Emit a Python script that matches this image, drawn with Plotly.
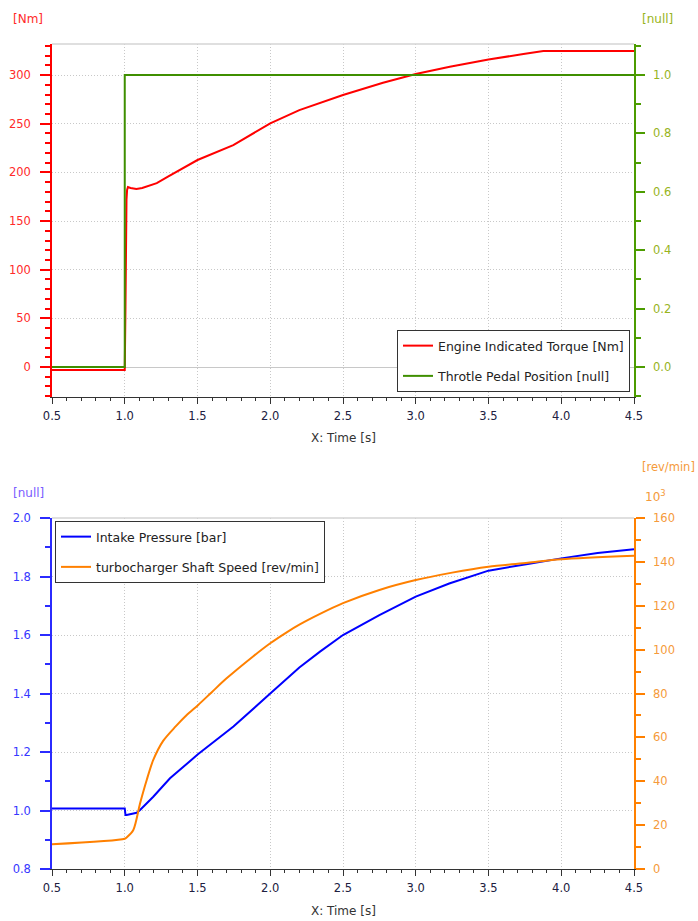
import plotly.graph_objects as go

# ---------------- data ----------------
torque_t = [0.5, 1.0, 1.005, 1.007, 1.012, 1.016, 1.022, 1.04, 1.08, 1.12, 1.174, 1.22, 1.3,
            1.5, 1.746, 2.0, 2.2, 2.5, 2.775, 3.0, 3.234, 3.5, 3.74, 3.877, 4.5]
torque_v = [-3, -3, 62, 170, 172, 182, 185, 184, 183, 184, 187, 189, 196,
            212.7, 228, 250.4, 264, 279.5, 292, 301, 308.5, 316, 321.6, 324.7, 324.7]

pedal_t = [0.5, 1.0, 1.0, 4.5]
pedal_v = [0.0, 0.0, 1.0, 1.0]

press_t = [0.5, 1.0, 1.005, 1.013, 1.082, 1.105, 1.196, 1.311, 1.505, 1.747, 2.0, 2.2,
           2.342, 2.5, 2.75, 3.0, 3.23, 3.5, 3.77, 4.0, 4.25, 4.5]
press_v = [1.007, 1.007, 0.985, 0.985, 0.992, 1.002, 1.047, 1.110, 1.193, 1.287, 1.400, 1.489,
           1.543, 1.600, 1.668, 1.731, 1.776, 1.820, 1.843, 1.862, 1.880, 1.893]

turbo_t = [0.5, 1.0, 1.013, 1.059, 1.105, 1.151, 1.196, 1.265, 1.35, 1.426, 1.505, 1.598,
           1.70, 1.884, 2.0, 2.113, 2.203, 2.342, 2.5, 2.75, 3.0, 3.25, 3.5, 3.77, 4.0, 4.5]
turbo_v = [11.3, 13.8, 14.4, 17.8, 29.9, 40.6, 49.7, 58.5, 65.0, 70.2, 74.8, 80.6,
           86.9, 97.0, 102.9, 107.9, 111.5, 116.3, 121.2, 127.2, 131.7, 135.1, 137.8, 139.6, 141.2, 142.8]

x_ticks = [0.5, 1.0, 1.5, 2.0, 2.5, 3.0, 3.5, 4.0, 4.5]

# ---------------- styling ----------------
FONT = "DejaVu Sans"
RED = "#ff0000"
RED_LBL = "#ff2a2a"
GREEN = "#3f8f00"
GREEN_AX = "#4c9c00"
GREEN_LBL = "#98b41c"
BLUE = "#0000ff"
BLUE_AX = "#2b2bff"
BLUE_LBL = "#3636ff"
ORANGE = "#ff8000"
ORANGE_LBL = "#f59a3a"
XLBL = "#202040"
GRID = "#c8c8c8"
GDASH = "1px,2px"

# plot-area geometry in pixels
W, H = 698, 921
L, R, T, B = 52, 64, 44, 52
PW, PH = W - L - R, H - T - B

def px(x):
    return (x - L) / PW

def py(y):
    return (H - B - y) / PH

fig = go.Figure()

fig.add_trace(go.Scatter(x=torque_t, y=torque_v, mode="lines", name="Engine Indicated Torque [Nm]",
                         line=dict(color=RED, width=2), xaxis="x", yaxis="y",
                         legend="legend", legendgroup="a"))
fig.add_trace(go.Scatter(x=pedal_t, y=pedal_v, mode="lines", name="Throtle Pedal Position [null]",
                         line=dict(color=GREEN, width=2), xaxis="x", yaxis="y2",
                         legend="legend", legendgroup="b"))
fig.add_trace(go.Scatter(x=press_t, y=press_v, mode="lines", name="Intake Pressure [bar]",
                         line=dict(color=BLUE, width=2), xaxis="x2", yaxis="y3",
                         legend="legend2", legendgroup="c"))
fig.add_trace(go.Scatter(x=turbo_t, y=turbo_v, mode="lines", name="turbocharger Shaft Speed [rev/min]",
                         line=dict(color=ORANGE, width=2, shape="spline", smoothing=0.8),
                         xaxis="x2", yaxis="y4", legend="legend2", legendgroup="d"))

top_dom = [py(397), 1.0]
bot_dom = [0.0, py(518)]

def xaxis_cfg(anchor):
    return dict(
        domain=[0, 1], anchor=anchor, range=[0.5, 4.5], tickvals=x_ticks,
        ticktext=[f"{v:.1f}" for v in x_ticks], automargin=False,
        showline=True, linecolor="#333333", linewidth=1,
        ticks="outside", ticklen=6, tickcolor="#333333", tickwidth=1,
        minor=dict(dtick=0.1, tick0=0.5, ticks="outside", ticklen=3, tickcolor="#333333"),
        showgrid=True, gridcolor=GRID, griddash=GDASH, gridwidth=1,
        zeroline=False, tickfont=dict(family=FONT, size=11.5, color=XLBL),
        ticklabelstandoff=2,
    )

fig.update_layout(
    width=W, height=H,
    margin=dict(l=L, r=R, t=T, b=B, autoexpand=False),
    paper_bgcolor="white", plot_bgcolor="white",
    font=dict(family=FONT, size=12),
    xaxis=xaxis_cfg("y"),
    xaxis2=xaxis_cfg("y3"),
    yaxis=dict(
        domain=top_dom, anchor="x", range=[-30.8, 331.9], automargin=False,
        tickvals=[0, 50, 100, 150, 200, 250, 300],
        showline=True, linecolor=RED, linewidth=1.5,
        ticks="outside", ticklen=10, tickcolor=RED, tickwidth=1.5,
        minor=dict(dtick=10, ticks="outside", ticklen=5, tickcolor=RED),
        showgrid=True, gridcolor=GRID, griddash=GDASH,
        zeroline=True, zerolinecolor="#c8c8c8", zerolinewidth=1,
        tickfont=dict(family=FONT, size=11.5, color=RED_LBL),
        ticklabelstandoff=7,
    ),
    yaxis2=dict(
        domain=top_dom, anchor="x", overlaying="y", side="right", range=[-0.1027, 1.1062],
        automargin=False,
        tickvals=[0, 0.2, 0.4, 0.6, 0.8, 1.0],
        ticktext=["0.0", "0.2", "0.4", "0.6", "0.8", "1.0"],
        showline=True, linecolor=GREEN_AX, linewidth=1.5,
        ticks="outside", ticklen=9, tickcolor=GREEN_AX, tickwidth=1.5,
        minor=dict(dtick=0.1, ticks="outside", ticklen=5, tickcolor=GREEN_AX),
        showgrid=False, zeroline=False,
        tickfont=dict(family=FONT, size=11.5, color=GREEN_LBL),
        ticklabelstandoff=6,
    ),
    yaxis3=dict(
        domain=bot_dom, anchor="x2", range=[0.8, 2.0], automargin=False,
        tickvals=[0.8, 1.0, 1.2, 1.4, 1.6, 1.8, 2.0],
        ticktext=["0.8", "1.0", "1.2", "1.4", "1.6", "1.8", "2.0"],
        showline=True, linecolor=BLUE_AX, linewidth=1.5,
        ticks="outside", ticklen=10, tickcolor=BLUE_AX, tickwidth=1.5,
        minor=dict(dtick=0.1, tick0=0.8, ticks="outside", ticklen=5, tickcolor=BLUE_AX),
        showgrid=True, gridcolor=GRID, griddash=GDASH, zeroline=False,
        tickfont=dict(family=FONT, size=11.5, color=BLUE_LBL),
        ticklabelstandoff=7,
    ),
    yaxis4=dict(
        domain=bot_dom, anchor="x2", overlaying="y3", side="right", range=[0, 160],
        automargin=False,
        tickvals=[0, 20, 40, 60, 80, 100, 120, 140, 160],
        showline=True, linecolor=ORANGE, linewidth=1.5,
        ticks="outside", ticklen=9, tickcolor=ORANGE, tickwidth=1.5,
        minor=dict(dtick=10, ticks="outside", ticklen=5, tickcolor=ORANGE),
        showgrid=False, zeroline=False,
        tickfont=dict(family=FONT, size=11.5, color=ORANGE_LBL),
        ticklabelstandoff=6,
    ),
    legend=dict(
        x=px(630), xanchor="right", y=py(392), yanchor="bottom",
        bgcolor="white", bordercolor="#333333", borderwidth=1,
        font=dict(family=FONT, size=12.5, color="#222222"),
        traceorder="grouped", tracegroupgap=11, itemwidth=30,
    ),
    legend2=dict(
        x=px(55), xanchor="left", y=py(521), yanchor="top",
        bgcolor="white", bordercolor="#333333", borderwidth=1,
        font=dict(family=FONT, size=12.5, color="#222222"),
        traceorder="grouped", tracegroupgap=11, itemwidth=30,
    ),
)

# light frame line along the top of each plot area
for yv in [top_dom[1], bot_dom[1]]:
    fig.add_shape(type="line", xref="paper", yref="paper", x0=0, x1=1, y0=yv, y1=yv,
                  line=dict(color="#d4d4d4", width=1.5))

# separator lines inside the legends
fig.add_shape(type="line", xref="paper", yref="paper", x0=px(405), x1=px(627), y0=py(361), y1=py(361),
              line=dict(color="#c8c8c8", width=1))
fig.add_shape(type="line", xref="paper", yref="paper", x0=px(58), x1=px(321), y0=py(551), y1=py(551),
              line=dict(color="#c8c8c8", width=1))

# unit labels and axis titles
ann = [
    dict(text="[Nm]", x=28, y=19, color=RED_LBL, anchor="center", size=12),
    dict(text="[null]", x=657, y=19, color=GREEN_LBL, anchor="center", size=12),
    dict(text="[null]", x=28, y=493, color="#7a5cff", anchor="center", size=12),
    dict(text="[rev/min]", x=697, y=467, color=ORANGE_LBL, anchor="right", size=11.5),
    dict(text="10<sup>3</sup>", x=655, y=496, color=ORANGE_LBL, anchor="center", size=12),
    dict(text="X: Time [s]", x=343, y=438, color="#333333", anchor="center", size=12),
    dict(text="X: Time [s]", x=343, y=911, color="#333333", anchor="center", size=12),
]
for a in ann:
    fig.add_annotation(text=a["text"], xref="paper", yref="paper",
                       x=px(a["x"]), y=py(a["y"]),
                       xanchor=a["anchor"], yanchor="middle", showarrow=False,
                       font=dict(family=FONT, size=a["size"], color=a["color"]))

fig.write_html(
    "out.html",
    config={"displayModeBar": False},
    post_script="document.body.style.margin='0px';document.body.style.padding='0px';",
)
